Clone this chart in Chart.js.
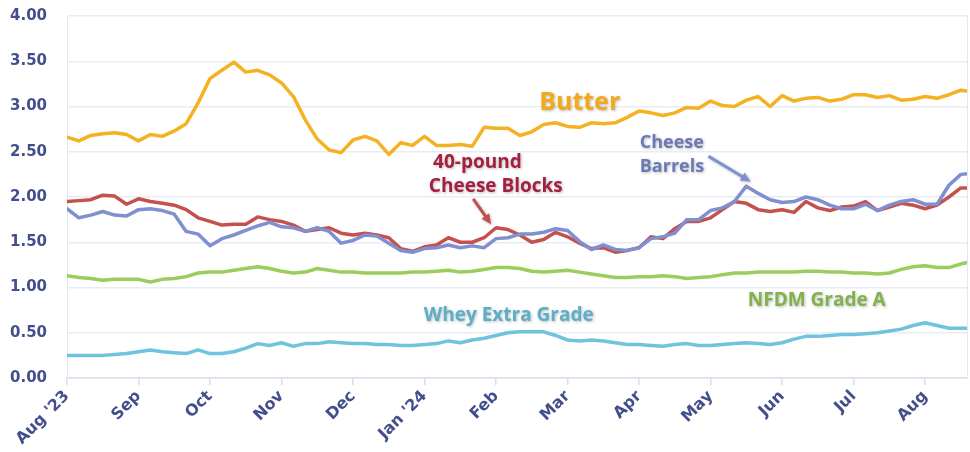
<!DOCTYPE html>
<html>
<head>
<meta charset="utf-8">
<script src="https://cdn.jsdelivr.net/npm/chart.js@4.4.1/dist/chart.umd.min.js"></script>
<style>
  html, body { margin: 0; padding: 0; background: #fff; }
  #wrap { width: 970px; height: 452px; }
</style>
</head>
<body>
<div id="wrap"><canvas id="prices" width="970" height="452"></canvas></div>
<script>
// month tick labels, Aug 2023 .. Aug 2024
const monthLabels = ["Aug '23", 'Sep', 'Oct', 'Nov', 'Dec', "Jan '24", 'Feb', 'Mar', 'Apr', 'May', 'Jun', 'Jul', 'Aug'];
// readings taken about every 5 days (6 per month)
const samplesPerMonth = 6;

const butter = [2.66, 2.62, 2.68, 2.70, 2.71, 2.69, 2.62, 2.69, 2.67, 2.73, 2.81, 3.04,
  3.31, 3.40, 3.49, 3.38, 3.40, 3.35, 3.26, 3.11, 2.85, 2.64, 2.52, 2.49,
  2.63, 2.67, 2.62, 2.47, 2.60, 2.57, 2.67, 2.57, 2.57, 2.58, 2.56, 2.77,
  2.76, 2.76, 2.68, 2.72, 2.80, 2.82, 2.78, 2.77, 2.82, 2.81, 2.82, 2.88,
  2.95, 2.93, 2.90, 2.93, 2.99, 2.98, 3.06, 3.01, 3.00, 3.07, 3.11, 3.00,
  3.12, 3.06, 3.09, 3.10, 3.06, 3.08, 3.13, 3.13, 3.10, 3.12, 3.07, 3.08,
  3.11, 3.09, 3.13, 3.18, 3.16];

const cheeseBlocks = [1.95, 1.96, 1.97, 2.02, 2.01, 1.92, 1.98, 1.95, 1.93, 1.91, 1.86, 1.77,
  1.73, 1.69, 1.70, 1.70, 1.78, 1.75, 1.73, 1.69, 1.62, 1.64, 1.66, 1.60,
  1.58, 1.60, 1.58, 1.55, 1.43, 1.40, 1.45, 1.47, 1.55, 1.50, 1.50, 1.55,
  1.66, 1.64, 1.58, 1.50, 1.53, 1.61, 1.56, 1.49, 1.43, 1.44, 1.39, 1.41,
  1.44, 1.56, 1.54, 1.65, 1.73, 1.73, 1.77, 1.86, 1.95, 1.93, 1.86, 1.84,
  1.86, 1.83, 1.95, 1.88, 1.85, 1.89, 1.90, 1.95, 1.85, 1.89, 1.93, 1.91,
  1.87, 1.91, 2.00, 2.10, 2.10];

const cheeseBarrels = [1.87, 1.77, 1.80, 1.84, 1.80, 1.79, 1.86, 1.87, 1.85, 1.81, 1.62, 1.59,
  1.46, 1.54, 1.58, 1.63, 1.68, 1.72, 1.67, 1.66, 1.62, 1.66, 1.62, 1.49,
  1.52, 1.58, 1.57, 1.49, 1.41, 1.39, 1.43, 1.44, 1.47, 1.44, 1.46, 1.44,
  1.54, 1.55, 1.59, 1.59, 1.61, 1.65, 1.63, 1.51, 1.42, 1.47, 1.42, 1.41,
  1.44, 1.54, 1.56, 1.60, 1.75, 1.75, 1.85, 1.88, 1.95, 2.12, 2.04, 1.97,
  1.94, 1.95, 2.00, 1.97, 1.91, 1.87, 1.87, 1.92, 1.85, 1.91, 1.95, 1.97,
  1.92, 1.92, 2.13, 2.25, 2.26];

const nfdm = [1.13, 1.11, 1.10, 1.08, 1.09, 1.09, 1.09, 1.06, 1.09, 1.10, 1.12, 1.16,
  1.17, 1.17, 1.19, 1.21, 1.23, 1.21, 1.18, 1.16, 1.17, 1.21, 1.19, 1.17,
  1.17, 1.16, 1.16, 1.16, 1.16, 1.17, 1.17, 1.18, 1.19, 1.17, 1.18, 1.20,
  1.22, 1.22, 1.21, 1.18, 1.17, 1.18, 1.19, 1.17, 1.15, 1.13, 1.11, 1.11,
  1.12, 1.12, 1.13, 1.12, 1.10, 1.11, 1.12, 1.14, 1.16, 1.16, 1.17, 1.17,
  1.17, 1.17, 1.18, 1.18, 1.17, 1.17, 1.16, 1.16, 1.15, 1.16, 1.20, 1.23,
  1.24, 1.22, 1.22, 1.26, 1.29];

const whey = [0.25, 0.25, 0.25, 0.25, 0.26, 0.27, 0.29, 0.31, 0.29, 0.28, 0.27, 0.31,
  0.27, 0.27, 0.29, 0.33, 0.38, 0.36, 0.39, 0.35, 0.38, 0.38, 0.40, 0.39,
  0.38, 0.38, 0.37, 0.37, 0.36, 0.36, 0.37, 0.38, 0.41, 0.39, 0.42, 0.44,
  0.47, 0.50, 0.51, 0.51, 0.51, 0.47, 0.42, 0.41, 0.42, 0.41, 0.39, 0.37,
  0.37, 0.36, 0.35, 0.37, 0.38, 0.36, 0.36, 0.37, 0.38, 0.39, 0.38, 0.37,
  0.39, 0.43, 0.46, 0.46, 0.47, 0.48, 0.48, 0.49, 0.50, 0.52, 0.54, 0.58,
  0.61, 0.58, 0.55, 0.55, 0.55];

const toPoints = arr => arr.map((v, i) => ({ x: i / samplesPerMonth, y: v }));

const line = (label, values, color) => ({
  label: label,
  data: toPoints(values),
  borderColor: color,
  borderWidth: 3.5,
  pointRadius: 0,
  tension: 0,
  borderJoinStyle: 'round',
  borderCapStyle: 'round'
});

// in-chart labels, placed in data units
const notes = [
  { text: 'Butter', x: 7.17, y: 3.04, color: '#F2A91C', size: 25, align: 'center' },
  { text: '40-pound', x: 5.12, y: 2.38, color: '#A52040', size: 19, align: 'left' },
  { text: 'Cheese Blocks', x: 5.06, y: 2.11, color: '#A52040', size: 19, align: 'left' },
  { text: 'Cheese', x: 8.01, y: 2.60, color: '#6B79B8', size: 18, align: 'left' },
  { text: 'Barrels', x: 8.01, y: 2.33, color: '#6B79B8', size: 18, align: 'left' },
  { text: 'NFDM Grade A', x: 9.52, y: 0.86, color: '#82B24E', size: 19, align: 'left' },
  { text: 'Whey Extra Grade', x: 4.99, y: 0.69, color: '#5EAEC8', size: 19, align: 'left' }
];
const arrows = [
  { from: [5.68, 1.98], to: [5.93, 1.70], color: '#C0504D' },
  { from: [8.97, 2.45], to: [9.56, 2.17], color: '#7F8FCF' }
];

const annotate = {
  id: 'annotate',
  afterDatasetsDraw(chart) {
    const { ctx, scales: { x, y }, chartArea } = chart;
    ctx.save();
    // right frame line
    ctx.strokeStyle = '#E3E7F2';
    ctx.lineWidth = 1;
    ctx.beginPath();
    ctx.moveTo(chartArea.right - 0.5, chartArea.top);
    ctx.lineTo(chartArea.right - 0.5, chartArea.bottom);
    ctx.stroke();

    ctx.shadowColor = 'rgba(0,0,0,0.28)';
    ctx.shadowBlur = 3;
    ctx.shadowOffsetX = 1;
    ctx.shadowOffsetY = 1;
    notes.forEach(n => {
      ctx.font = 'bold ' + n.size + 'px "Open Sans", sans-serif';
      ctx.fillStyle = n.color;
      ctx.textAlign = n.align;
      ctx.textBaseline = 'middle';
      ctx.fillText(n.text, x.getPixelForValue(n.x), y.getPixelForValue(n.y));
    });

    arrows.forEach(a => {
      const x0 = x.getPixelForValue(a.from[0]), y0 = y.getPixelForValue(a.from[1]);
      const x1 = x.getPixelForValue(a.to[0]), y1 = y.getPixelForValue(a.to[1]);
      const ang = Math.atan2(y1 - y0, x1 - x0);
      const head = 11;
      ctx.strokeStyle = a.color;
      ctx.fillStyle = a.color;
      ctx.lineWidth = 3;
      ctx.beginPath();
      ctx.moveTo(x0, y0);
      ctx.lineTo(x1 - Math.cos(ang) * head * 0.8, y1 - Math.sin(ang) * head * 0.8);
      ctx.stroke();
      ctx.beginPath();
      ctx.moveTo(x1, y1);
      ctx.lineTo(x1 - head * Math.cos(ang - 0.45), y1 - head * Math.sin(ang - 0.45));
      ctx.lineTo(x1 - head * Math.cos(ang + 0.45), y1 - head * Math.sin(ang + 0.45));
      ctx.closePath();
      ctx.fill();
    });
    ctx.restore();
  }
};

const yFont = { family: '"DejaVu Sans", sans-serif', size: 15, weight: 'bold' };
const xFont = { family: '"DejaVu Sans", sans-serif', size: 16, weight: 'bold' };

new Chart(document.getElementById('prices'), {
  type: 'line',
  data: {
    datasets: [
      line('Whey Extra Grade', whey, '#6EC3DD'),
      line('NFDM Grade A', nfdm, '#9ACD5C'),
      line('Cheese Barrels', cheeseBarrels, '#7F8FCF'),
      line('40-pound Cheese Blocks', cheeseBlocks, '#C3514E'),
      line('Butter', butter, '#F4B223')
    ]
  },
  options: {
    responsive: false,
    animation: false,
    layout: { padding: { top: 16, right: 2, left: 0, bottom: 0 } },
    plugins: {
      legend: { display: false },
      tooltip: { enabled: false }
    },
    scales: {
      x: {
        type: 'linear',
        min: 0,
        max: 12.6,
        afterFit: s => { s.height = 74; },
        grid: { drawOnChartArea: false, tickLength: 7, color: '#D9DEEC', lineWidth: 1.5 },
        border: { color: '#D9DEEC', width: 1.5 },
        ticks: {
          stepSize: 1,
          includeBounds: false,
          autoSkip: false,
          maxRotation: 45,
          minRotation: 45,
          padding: 2,
          color: '#434F8C',
          font: xFont,
          callback: v => monthLabels[v]
        }
      },
      y: {
        min: 0,
        max: 4,
        afterFit: s => { s.width = 67; s.paddingTop = 0; s.paddingBottom = 0; },
        grid: { color: '#E9ECF5', drawTicks: false, lineWidth: 1.5 },
        border: { color: '#E3E7F2' },
        ticks: {
          stepSize: 0.5,
          padding: 20,
          color: '#434F8C',
          font: yFont,
          callback: v => v.toFixed(2)
        }
      }
    }
  },
  plugins: [annotate]
});
</script>
</body>
</html>
